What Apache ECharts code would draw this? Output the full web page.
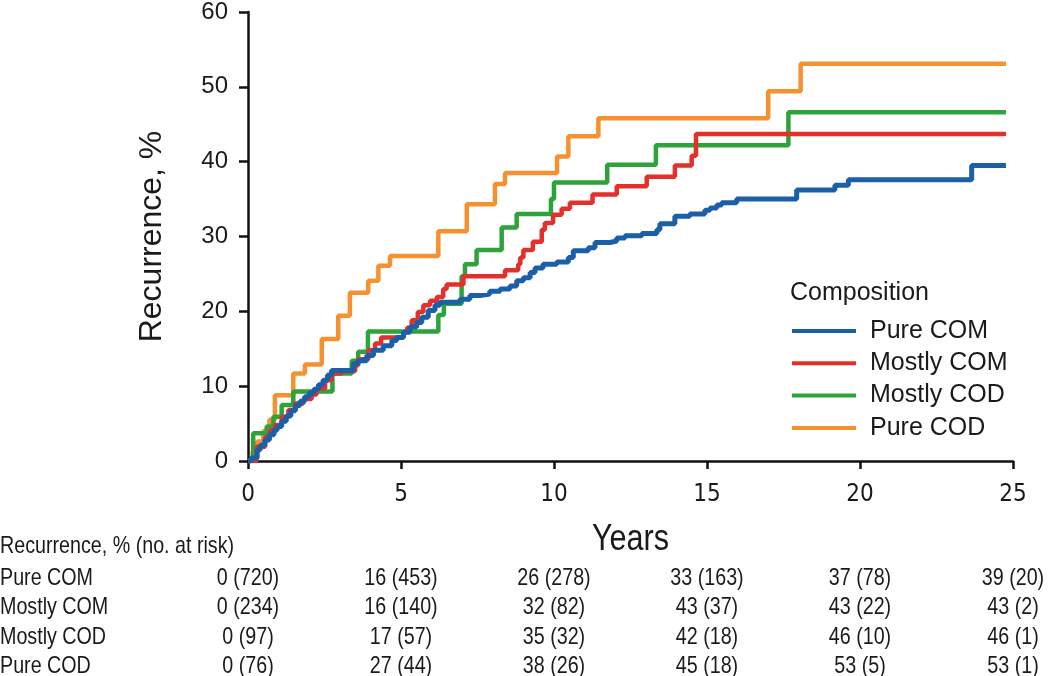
<!DOCTYPE html>
<html><head><meta charset="utf-8">
<script src="https://cdn.jsdelivr.net/npm/echarts@6/dist/echarts.min.js"></script>
<style>html,body{margin:0;padding:0;background:#fff}#c{width:1050px;height:676px}</style>
</head><body><div id="c"></div>
<script>
// ---- data ----
const xTicks = [0, 5, 10, 15, 20, 25];
const seriesNames = ['Pure COM', 'Mostly COM', 'Mostly COD', 'Pure COD'];

const pureCOM_t = [0,0.1,0.3,0.4,0.55,0.7,0.85,0.95,1.1,1.25,1.4,1.55,1.7,1.85,2.0,2.15,2.3,2.45,2.6,2.73,3.44,3.6,3.88,4.1,4.42,4.7,4.86,5.08,5.29,5.51,5.68,5.89,6.11,6.27,6.93,7.25,7.58,7.9,8.24,8.56,8.78,9.0,9.22,9.38,9.64,10.09,10.47,10.63,11.12,11.34,11.83,12.05,12.32,12.87,13.36,13.46,13.95,14.44,14.93,15.1,15.32,15.48,15.97,17.93,19.18,19.62,23.65,24.77];
const pureCOM_v = [0,0.4,1.5,2.1,2.8,3.5,4.1,4.6,5.3,6.0,6.7,7.4,8.0,8.6,9.1,9.6,10.2,10.8,11.5,12.1,13.0,13.4,14.1,14.8,15.4,16.1,16.5,17.2,17.9,18.5,19.2,20.1,20.8,21.2,21.6,22.1,22.3,22.7,23.0,23.4,24.1,24.5,25.2,25.8,26.3,26.6,27.2,28.1,28.5,29.2,29.4,29.8,30.1,30.4,30.9,31.7,32.7,33.0,33.5,33.8,34.2,34.5,35.0,36.2,36.85,37.6,39.5,39.5];

const mostlyCOM_t = [0,0.28,0.56,0.72,0.88,1.1,1.32,1.54,1.81,2.08,2.24,2.52,2.73,3.06,3.5,3.6,3.93,4.15,4.35,5.08,5.2,5.35,5.55,5.73,5.95,6.17,6.38,6.49,7.04,8.4,8.83,8.9,9.0,9.31,9.6,9.7,9.97,10.25,10.52,11.26,12.05,13.03,13.95,14.5,14.64,24.77];
const mostlyCOM_v = [0,1.9,3.2,4.1,4.8,5.9,6.8,7.7,8.3,8.9,9.7,10.8,11.7,12.0,12.8,13.6,14.8,15.7,16.5,17.2,17.8,18.8,19.9,20.8,21.4,21.9,23.0,23.6,24.7,25.5,26.3,27.2,28.2,29.3,30.9,31.8,32.9,33.7,34.5,35.6,36.7,38.0,39.5,40.8,43.7,43.7];

const mostlyCOD_t = [0,0.17,0.61,0.83,1.1,1.48,2.76,3.39,3.6,3.92,6.22,6.4,6.98,7.09,7.47,8.29,8.78,9.9,10.0,11.74,13.33,17.66,24.77];
const mostlyCOD_v = [0,3.7,4.6,5.9,7.5,9.3,11.7,13.4,14.6,17.3,19.5,21.0,24.7,26.3,28.2,31.2,33.0,35.0,37.2,39.6,42.2,46.6,46.6];

const pureCOD_t = [0,0.15,0.3,0.5,0.7,0.88,1.48,1.86,2.41,2.95,3.33,3.93,4.26,4.64,6.22,7.15,8.07,8.4,10.1,10.47,11.45,17.0,18.06,24.77];
const pureCOD_v = [0,1.3,2.6,4.0,5.5,8.8,11.7,12.9,16.3,19.4,22.5,24.1,26.1,27.4,30.7,34.3,37.0,38.5,40.7,43.4,45.8,49.4,53.1,53.1];

const tableHeader = 'Recurrence, % (no. at risk)';
const tablePureCOM   = ['0 (720)', '16 (453)', '26 (278)', '33 (163)', '37 (78)', '39 (20)'];
const tableMostlyCOM = ['0 (234)', '16 (140)', '32 (82)', '43 (37)', '43 (22)', '43 (2)'];
const tableMostlyCOD = ['0 (97)', '17 (57)', '35 (32)', '42 (18)', '46 (10)', '46 (1)'];
const tablePureCOD   = ['0 (76)', '27 (44)', '38 (26)', '45 (18)', '53 (5)', '53 (1)'];

// ---- styles ----
const colors = {'Pure COM': '#1b5fa8', 'Mostly COM': '#e3302b', 'Mostly COD': '#2ea23b', 'Pure COD': '#f5922f'};
const REG = "'Liberation Sans', Arial, sans-serif";
const NAR = "'DejaVu Sans Condensed', sans-serif";
const TXT = '#1a1a1a';
const NARROW = 0.82;

const zip = (t, v) => t.map((x, i) => [x, v[i]]);
const seriesData = {
  'Pure COM': zip(pureCOM_t, pureCOM_v),
  'Mostly COM': zip(mostlyCOM_t, mostlyCOM_v),
  'Mostly COD': zip(mostlyCOD_t, mostlyCOD_v),
  'Pure COD': zip(pureCOD_t, pureCOD_v)
};
const tableRows = [tablePureCOM, tableMostlyCOM, tableMostlyCOD, tablePureCOD];
const headerCenter = 546;
const rowCenters = [578, 607, 637, 666];
const AXIS_Y = 461;

const order = ['Pure COD', 'Mostly COD', 'Mostly COM', 'Pure COM'];
const series = order.map((name, i) => ({
  name, type: 'line', step: 'end', symbol: 'none',
  data: seriesData[name], z: 2 + i,
  lineStyle: {color: colors[name], width: name === 'Pure COM' ? 5 : 4.5},
  itemStyle: {color: colors[name]}
}));

const chart = echarts.init(document.getElementById('c'), null, {renderer: 'canvas'});
chart.setOption({
  animation: false,
  backgroundColor: '#fff',
  grid: {left: 248, right: 37, top: 10, bottom: 676 - AXIS_Y, containLabel: false},
  title: {
    text: 'Composition', left: 785, top: 276,
    textStyle: {fontSize: 25, fontWeight: 'normal', color: TXT, fontFamily: REG}
  },
  legend: {
    data: seriesNames, orient: 'vertical', left: 787, top: 313,
    icon: 'rect', itemWidth: 64, itemHeight: 4, itemGap: 6.3,
    textStyle: {fontSize: 25, lineHeight: 26, color: TXT, fontFamily: REG, padding: [0, 0, 0, 9]}
  },
  xAxis: {
    type: 'value', min: 0, max: 25, interval: 5,
    axisLine: {show: true, onZero: false, lineStyle: {color: '#111', width: 2.5}},
    axisTick: {show: true, inside: false, length: 8, lineStyle: {color: '#111', width: 2.5}},
    splitLine: {show: false},
    axisLabel: {margin: 22, fontSize: 24, fontFamily: NAR, color: TXT}
  },
  yAxis: {
    type: 'value', min: 0, max: 60, interval: 10,
    name: 'Recurrence, %', nameLocation: 'middle', nameGap: 80,
    nameTextStyle: {fontSize: 32, color: TXT, fontFamily: REG},
    axisLine: {show: true, onZero: false, lineStyle: {color: '#111', width: 2.5}},
    axisTick: {show: true, inside: false, length: 9, lineStyle: {color: '#111', width: 2.5}},
    splitLine: {show: false},
    axisLabel: {margin: 20, fontSize: 24, fontFamily: REG, color: TXT}
  },
  series
});

// narrow text (condensed look) placed through the x axis scale
const narrowText = (text, x, y, size, align, sx) => ({
  type: 'text', x, y, scaleX: sx || NARROW, scaleY: 1, silent: true,
  style: {text, fontSize: size, fontFamily: REG, fill: TXT, align: align || 'left', verticalAlign: 'middle'}
});
const xPix = (v) => chart.convertToPixel({xAxisIndex: 0}, v);
const graphics = [];
graphics.push(narrowText('Years', (xPix(0) + xPix(25)) / 2, 540, 36, 'center', 0.85));
graphics.push(narrowText(tableHeader, 0, headerCenter, 24, 'left'));
seriesNames.forEach((n, i) => {
  graphics.push(narrowText(n, 0, rowCenters[i], 24, 'left'));
  tableRows[i].forEach((cell, j) => {
    graphics.push(narrowText(cell, xPix(xTicks[j]), rowCenters[i], 24, 'center'));
  });
});
chart.setOption({graphic: graphics});
</script></body></html>
